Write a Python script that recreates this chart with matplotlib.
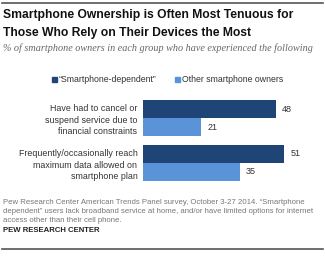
import matplotlib.pyplot as plt
from matplotlib.patches import Rectangle
import numpy as np

categories = ["Have had to cancel or\nsuspend service due to\nfinancial constraints",
              "Frequently/occasionally reach\nmaximum data allowed on\nsmartphone plan"]
dependent = [48, 51]
others = [21, 35]
series_names = ["\u201cSmartphone-dependent\u201d", "Other smartphone owners"]

dark = "#1F4577"
light = "#5B93D8"
W, H = 325, 258

fig = plt.figure(figsize=(W / 100, H / 100), dpi=100)
fig.patch.set_facecolor("white")

def fx(px):
    return px / W

def fy(py):
    return 1 - py / H

sans = ["Liberation Sans Narrow", "Liberation Sans", "DejaVu Sans"]

# top and bottom rules
fig.add_artist(plt.Line2D([fx(2), fx(323)], [fy(3), fy(3)], color="#555555", lw=1.2))
fig.add_artist(plt.Line2D([fx(2), fx(323)], [fy(249), fy(249)], color="#555555", lw=1.2))

fig.text(fx(3), fy(15), "Smartphone Ownership is Often Most Tenuous for",
         fontsize=8.7, fontweight="bold", family=sans, va="center", color="#111111")
fig.text(fx(3), fy(33), "Those Who Rely on Their Devices the Most",
         fontsize=8.7, fontweight="bold", family=sans, va="center", color="#111111")
fig.text(fx(3), fy(48), "% of smartphone owners in each group who have experienced the following",
         fontsize=7.3, style="italic", family=["Liberation Serif", "DejaVu Serif"],
         va="center", color="#666666")

# axes
y_top, y_bot = 95, 186
ax = fig.add_axes([fx(143), fy(y_bot), fx(180), (y_bot - y_top) / H])
pos = np.arange(len(categories))
h = 0.4
spacing = 45.0
ax.set_ylim(1 + (y_bot - 163) / spacing, -(118 - y_top) / spacing)
ax.set_xlim(0, 180 / 2.77)
b1 = ax.barh(pos - h / 2, dependent, height=h, color=dark)
b2 = ax.barh(pos + h / 2, others, height=h, color=light)
for bars, vals in [(b1, dependent), (b2, others)]:
    for bar, v in zip(bars, vals):
        ax.text(bar.get_width() + 2.2, bar.get_y() + bar.get_height() / 2, str(v),
                va="center", ha="left", fontsize=6.5, family=sans, color="#333333")
ax.set_yticks(pos)
ax.set_yticklabels(categories, fontsize=6.4, family=sans, color="#333333")
ax.tick_params(axis="y", length=0, pad=4)
ax.set_xticks([])
for s in ax.spines.values():
    s.set_visible(False)
for lbl in ax.get_yticklabels():
    lbl.set_multialignment("right")
    lbl.set_linespacing(1.35)

# legend
fig.add_artist(Rectangle((fx(52), fy(82)), fx(5), 5 / H, color=dark))
fig.text(fx(59), fy(79), series_names[0], fontsize=6.3, family=sans, va="center", color="#333333")
fig.add_artist(Rectangle((fx(175), fy(82)), fx(5), 5 / H, color=light))
fig.text(fx(182), fy(79), series_names[1], fontsize=6.3, family=sans, va="center", color="#333333")

# footer
fig.text(fx(3), fy(199.5), "Pew Research Center American Trends Panel survey, October 3-27 2014. \u201cSmartphone\n"
         "dependent\u201d users lack broadband service at home, and/or have limited options for internet\n"
         "access other than their cell phone.",
         fontsize=5.6, family=sans, va="top", color="#777777", linespacing=1.35)
fig.text(fx(3), fy(230), "PEW RESEARCH CENTER", fontsize=5.6, fontweight="bold",
         family=sans, va="center", color="#222222")

fig.savefig("out.png", dpi=100)
